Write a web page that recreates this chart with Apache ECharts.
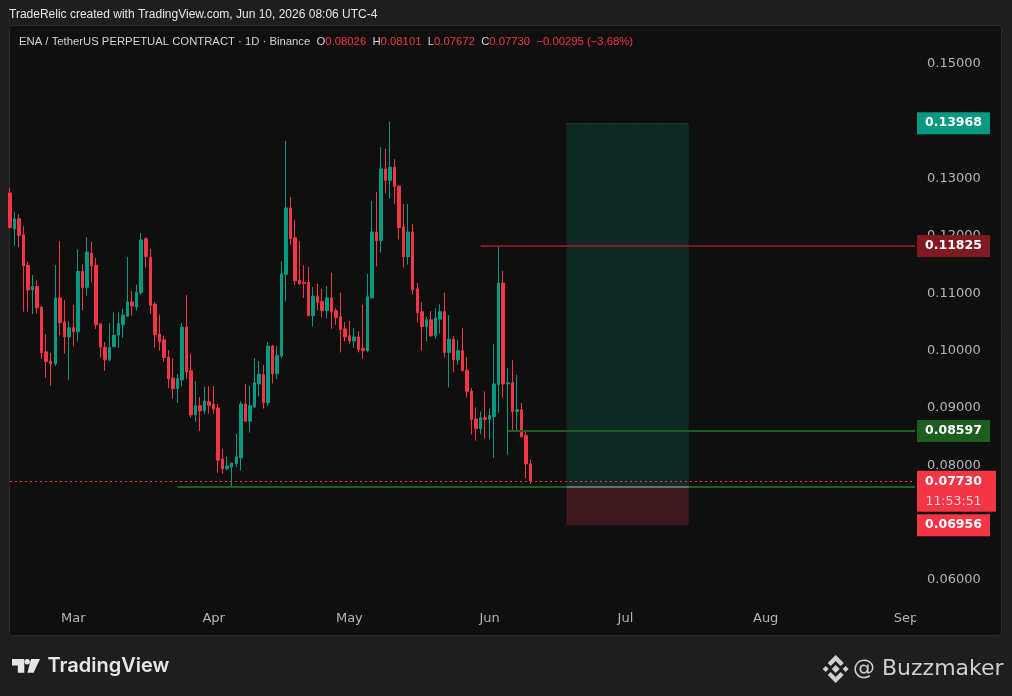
<!DOCTYPE html>
<html><head><meta charset="utf-8">
<script src="https://cdn.jsdelivr.net/npm/echarts@6/dist/echarts.min.js"></script>
<style>html,body{margin:0;padding:0;background:#1e1e1e;overflow:hidden}#c{width:1012px;height:696px}</style>
</head><body><div id="c"></div>
<script>
// ---- data ----
const firstDay = '2026-02-15';
const dayCount = 201; // Feb 15 .. Sep 3 (visible time range)
const monthNames = {'01':'Jan','02':'Feb','03':'Mar','04':'Apr','05':'May','06':'Jun','07':'Jul','08':'Aug','09':'Sep'};
const opens  = [0.1275,0.1212,0.1230,0.1202,0.1149,0.1106,0.1112,0.1076,0.0998,0.0982,
                0.0977,0.1092,0.1050,0.1024,0.1040,0.1033,0.1138,0.1110,0.1170,0.1149,
                0.1047,0.1006,0.0984,0.1007,0.1027,0.1045,0.1060,0.1085,0.1076,0.1101,
                0.1195,0.1163,0.1081,0.1029,0.1019,0.0989,0.0952,0.0934,0.0949,0.1041,
                0.0965,0.0888,0.0904,0.0895,0.0911,0.0907,0.0900,0.0811,0.0794,0.0797,
                0.0803,0.0813,0.0907,0.0877,0.0902,0.0942,0.0958,0.0909,0.1008,0.0960,
                0.0991,0.1133,0.1249,0.1197,0.1123,0.1119,0.1119,0.1061,0.1095,0.1086,
                0.1070,0.1092,0.1070,0.1059,0.1038,0.1026,0.1017,0.1024,0.1004,0.1000,
                0.1092,0.1207,0.1192,0.1317,0.1297,0.1320,0.1287,0.1216,0.1164,0.1207,
                0.1108,0.1068,0.1042,0.1054,0.1026,0.1055,0.1068,0.0997,0.1020,0.0984,
                0.1000,0.0966,0.0929,0.0881,0.0864,0.0883,0.0880,0.0885,0.0941,0.1118,
                0.0942,0.0944,0.0894,0.0897,0.0852,0.08026];
const highs  = [0.1283,0.1242,0.1238,0.1217,0.1155,0.1132,0.1123,0.1078,0.1029,0.0996,
                0.1149,0.1191,0.1088,0.1052,0.1080,0.1176,0.1151,0.1198,0.1190,0.1162,
                0.1047,0.1015,0.1048,0.1067,0.1067,0.1073,0.1163,0.1104,0.1115,0.1205,
                0.1198,0.1177,0.1085,0.1063,0.1026,0.1001,0.0987,0.0959,0.1048,0.1097,
                0.0994,0.0947,0.0919,0.0937,0.0938,0.0938,0.0907,0.0829,0.0815,0.0804,
                0.0855,0.0912,0.0942,0.0938,0.0987,0.0982,0.0975,0.1015,0.1010,0.1008,
                0.1156,0.1366,0.1268,0.1228,0.1191,0.1149,0.1146,0.1111,0.1117,0.1108,
                0.1113,0.1136,0.1074,0.1101,0.1050,0.1052,0.1040,0.1034,0.1080,0.1134,
                0.1261,0.1277,0.1355,0.1352,0.1399,0.1334,0.1287,0.1256,0.1256,0.1221,
                0.1118,0.1085,0.1059,0.1069,0.1074,0.1081,0.1101,0.1062,0.1026,0.1019,
                0.1040,0.0989,0.0935,0.0901,0.0894,0.0929,0.0899,0.1012,0.1184,0.1139,
                0.0970,0.0984,0.0958,0.0909,0.0859,0.08101];
const lows   = [0.1213,0.1183,0.1181,0.1068,0.1068,0.1064,0.1065,0.0986,0.0953,0.0939,
                0.0973,0.1027,0.0995,0.0949,0.1007,0.1016,0.1070,0.1096,0.1119,0.1038,
                0.0988,0.0965,0.0982,0.1007,0.1005,0.1023,0.1060,0.1061,0.1070,0.1097,
                0.1145,0.1064,0.1005,0.1000,0.0981,0.0935,0.0916,0.0909,0.0937,0.0951,
                0.0883,0.0876,0.0860,0.0890,0.0890,0.0890,0.0787,0.0785,0.0791,0.0763,
                0.0797,0.0791,0.0876,0.0857,0.0900,0.0920,0.0899,0.0904,0.0943,0.0950,
                0.0987,0.1086,0.1185,0.1115,0.1115,0.1092,0.1061,0.1042,0.1070,0.1058,
                0.1056,0.1038,0.1045,0.0997,0.1016,0.1012,0.1005,0.0997,0.0986,0.0997,
                0.1092,0.1147,0.1171,0.1274,0.1265,0.1256,0.1194,0.1145,0.1150,0.1098,
                0.1050,0.1000,0.1016,0.1024,0.1021,0.1030,0.0988,0.0936,0.0962,0.0976,
                0.0965,0.0918,0.0854,0.0843,0.0854,0.0847,0.0845,0.0813,0.0892,0.0918,
                0.0819,0.0862,0.0861,0.0848,0.0777,0.07672];
const closes = [0.1215,0.1230,0.1201,0.1148,0.1106,0.1112,0.1075,0.0996,0.0981,0.0977,
                0.1092,0.1049,0.1024,0.1040,0.1033,0.1138,0.1110,0.1172,0.1148,0.1045,
                0.1006,0.0984,0.1006,0.1027,0.1047,0.1062,0.1085,0.1078,0.1102,0.1193,
                0.1164,0.1079,0.1028,0.1016,0.0988,0.0951,0.0934,0.0951,0.1041,0.0963,
                0.0888,0.0904,0.0895,0.0912,0.0905,0.0898,0.0809,0.0794,0.0799,0.0804,
                0.0815,0.0907,0.0877,0.0904,0.0944,0.0959,0.0909,0.1008,0.0960,0.0992,
                0.1134,0.1249,0.1195,0.1122,0.1117,0.1117,0.1061,0.1095,0.1084,0.1070,
                0.1092,0.1068,0.1058,0.1037,0.1024,0.1017,0.1024,0.1002,0.1000,0.1094,
                0.1207,0.1192,0.1317,0.1297,0.1320,0.1286,0.1215,0.1164,0.1207,0.1106,
                0.1066,0.1042,0.1054,0.1026,0.1057,0.1068,0.0997,0.1020,0.0984,0.1000,
                0.0965,0.0929,0.0880,0.0864,0.0883,0.0880,0.0887,0.0942,0.1118,0.0942,
                0.0944,0.0894,0.0897,0.0850,0.08025,0.07730];
// drawing levels
const resistanceLevel = 0.11825, resistanceFrom = '2026-05-30';
const targetLevel = 0.13968;
const takeLevel = 0.08597, takeFrom = '2026-06-05';
const supportLevel = 0.0763, supportFrom = '2026-03-24';
const stopLevel = 0.06956;
const positionFrom = '2026-06-18', positionTo = '2026-07-15';
const countdown = '11:53:51';
const yMin = 0.06, yMax = 0.15, yStep = 0.01;

// ---- build ----
const categories = [];
{
  const t0 = Date.parse(firstDay + 'T00:00:00Z');
  for (let i = 0; i < dayCount; i++) categories.push(new Date(t0 + i * 86400000).toISOString().slice(0, 10));
}
const lastCat = categories[categories.length - 1];
const candles = opens.map((o, i) => [o, closes[i], lows[i], highs[i]]);
const n = closes.length;
const lastPrice = closes[n - 1];
const chg = closes[n - 1] - closes[n - 2];
const pct = chg / closes[n - 2] * 100;
const fmt = v => v.toFixed(5);

const RED = '#f23645', GREEN = '#089981', DKGREEN = '#1b5e20', DKRED = '#801922';
const chart = echarts.init(document.getElementById('c'), null, {renderer: 'canvas'});
const HF = 'Liberation Sans';
const HS = 11.3;

const option = {
  backgroundColor: '#1e1e1e',
  animation: false,
  title: [
    {text: 'TradeRelic created with TradingView.com, Jun 10, 2026 08:06 UTC-4', left: 4, top: 4,
     textStyle: {color: '#e6e6e6', fontSize: 12, fontWeight: 'normal', fontFamily: HF}},
    {text: '{n|ENA / TetherUS PERPETUAL CONTRACT \u00b7 1D \u00b7 Binance}  {n|O}{r|' + fmt(opens[n-1]) + '}  {n|H}{r|' + fmt(highs[n-1]) +
           '}  {n|L}{r|' + fmt(lows[n-1]) + '}  {n|C}{r|' + fmt(lastPrice) + '}  {r|' + (chg < 0 ? '\u2212' : '+') + fmt(Math.abs(chg)) +
           ' (' + (pct < 0 ? '\u2212' : '+') + Math.abs(pct).toFixed(2) + '%)}',
     left: 14, top: 31,
     textStyle: {fontSize: HS, fontWeight: 'normal', fontFamily: HF, rich: {
       n: {color: '#d1d4dc', fontSize: HS, fontWeight: 'normal', fontFamily: HF},
       r: {color: RED, fontSize: HS, fontWeight: 'normal', fontFamily: HF}}}}
  ],
  grid: {left: 10, right: 97, top: 64, bottom: 116, containLabel: false},
  xAxis: {
    type: 'category', data: categories, boundaryGap: false,
    axisLine: {show: false}, axisTick: {show: false}, splitLine: {show: false},
    axisLabel: {
      interval: (i, v) => v.slice(8) === '01',
      formatter: v => monthNames[v.slice(5, 7)],
      color: '#b2b5be', fontSize: 13, fontFamily: 'DejaVu Sans', margin: 32
    }
  },
  yAxis: {
    type: 'value', position: 'right', min: yMin, max: yMax, interval: yStep, scale: false,
    axisLine: {show: false}, axisTick: {show: false}, splitLine: {show: false},
    axisLabel: {formatter: v => v.toFixed(5), color: '#b2b5be', fontSize: 13, fontFamily: 'DejaVu Sans', margin: 12}
  },
  series: [{
    type: 'candlestick', data: candles, barWidth: 3, clip: true,
    itemStyle: {color: GREEN, color0: RED, borderColor: GREEN, borderColor0: RED, borderWidth: 1},
    markArea: {
      silent: true,
      data: [
        [{coord: [positionFrom, supportLevel], itemStyle: {color: '#0f2a25'}}, {coord: [positionTo, targetLevel]}],
        [{coord: [positionFrom, stopLevel], itemStyle: {color: '#3e191e'}}, {coord: [positionTo, supportLevel]}]
      ]
    },
    markLine: {
      silent: true, symbol: 'none', label: {show: false},
      data: [
        [{coord: [resistanceFrom, resistanceLevel], lineStyle: {color: DKRED, width: 2, type: 'solid'}}, {coord: [lastCat, resistanceLevel]}],
        [{coord: [takeFrom, takeLevel], lineStyle: {color: DKGREEN, width: 2, type: 'solid'}}, {coord: [lastCat, takeLevel]}],
        [{coord: [supportFrom, supportLevel], lineStyle: {color: DKGREEN, width: 2, type: 'solid'}}, {coord: [lastCat, supportLevel]}],
        [{coord: [positionFrom, supportLevel], lineStyle: {color: '#7a7a7a', width: 1.5, type: 'solid'}}, {coord: [positionTo, supportLevel]}],
        [{coord: [positionFrom, targetLevel], lineStyle: {color: '#1f6b2a', width: 1, type: [1, 2]}}, {coord: [positionTo, targetLevel]}],
        [{coord: [categories[0], lastPrice], lineStyle: {color: RED, width: 1.2, type: [2, 3]}}, {coord: [lastCat, lastPrice]}]
      ]
    }
  }]
};
chart.setOption(option);

// ---- overlay graphics positioned through the axes ----
const py = v => chart.convertToPixel({yAxisIndex: 0}, v);
const xRight = chart.convertToPixel({xAxisIndex: 0}, lastCat);
const bx = xRight + 2;
function priceBox(val, color, w) {
  const y = py(val);
  return [
    {type: 'rect', z: 100, shape: {x: bx, y: y - 11, width: w || 73, height: 22}, style: {fill: color}},
    {type: 'text', z: 101, x: bx + (w || 73) / 2, y: y, style: {text: fmt(val), fill: '#ffffff', font: 'bold 12.5px "DejaVu Sans"', align: 'center', verticalAlign: 'middle'}}
  ];
}
const yl = py(lastPrice);
const g = [
  {type: 'rect', z: -10, shape: {x: 9.5, y: 25.5, width: 992, height: 610, r: 3}, style: {fill: '#0f0f0f', stroke: '#2b2b2b', lineWidth: 1}},
  // clip month labels at price-scale edge
  {type: 'rect', z: 90, shape: {x: xRight + 1, y: 598, width: 85, height: 36}, style: {fill: '#0f0f0f'}},
  ...priceBox(targetLevel, GREEN),
  ...priceBox(resistanceLevel, DKRED),
  ...priceBox(takeLevel, DKGREEN),
  ...priceBox(stopLevel, RED),
  {type: 'rect', z: 100, shape: {x: bx, y: yl - 10, width: 79, height: 41, r: 1}, style: {fill: RED}},
  {type: 'text', z: 101, x: bx + 36.5, y: yl + 1, style: {text: fmt(lastPrice), fill: '#ffffff', font: 'bold 12.5px "DejaVu Sans"', align: 'center', verticalAlign: 'middle'}},
  {type: 'text', z: 101, x: bx + 36.5, y: yl + 21, style: {text: countdown, fill: 'rgba(255,235,237,0.85)', font: '12.5px "DejaVu Sans"', align: 'center', verticalAlign: 'middle'}},
  // TradingView logo
  {type: 'polygon', z: 10, shape: {points: [[12, 659], [24.3, 659], [24.3, 672.7], [17.8, 672.7], [17.8, 665.6], [12, 665.6]]}, style: {fill: '#e6e6e6'}},
  {type: 'circle', z: 10, shape: {cx: 27.2, cy: 661.8, r: 2.7}, style: {fill: '#e6e6e6'}},
  {type: 'polygon', z: 10, shape: {points: [[31, 659], [40, 659], [33.6, 672.7], [27.4, 672.7]]}, style: {fill: '#e6e6e6'}},
  {type: 'text', z: 10, x: 47.5, y: 666, style: {text: 'TradingView', fill: '#e6e6e6', font: '600 20px Inter', verticalAlign: 'middle'}},
  // Binance mark + handle
  {type: 'group', z: 10, x: 835.7, y: 669, children: [
    {type: 'polygon', shape: {points: [[0, -4], [4, 0], [0, 4], [-4, 0]]}, style: {fill: '#d0d0d0'}},
    {type: 'polygon', shape: {points: [[-10, -3], [-7, 0], [-10, 3], [-13, 0]]}, style: {fill: '#d0d0d0'}},
    {type: 'polygon', shape: {points: [[10, -3], [13, 0], [10, 3], [7, 0]]}, style: {fill: '#d0d0d0'}},
    {type: 'polygon', shape: {points: [[0, -14], [8, -6], [5, -3], [0, -8], [-5, -3], [-8, -6]]}, style: {fill: '#d0d0d0'}},
    {type: 'polygon', shape: {points: [[0, 14], [8, 6], [5, 3], [0, 8], [-5, 3], [-8, 6]]}, style: {fill: '#d0d0d0'}}
  ]},
  {type: 'text', z: 10, x: 853, y: 669, style: {text: '@ Buzzmaker', fill: '#cfcfcf', font: '22px "DejaVu Sans"', verticalAlign: 'middle'}}
];
chart.setOption({graphic: g});
</script>
</body></html>
